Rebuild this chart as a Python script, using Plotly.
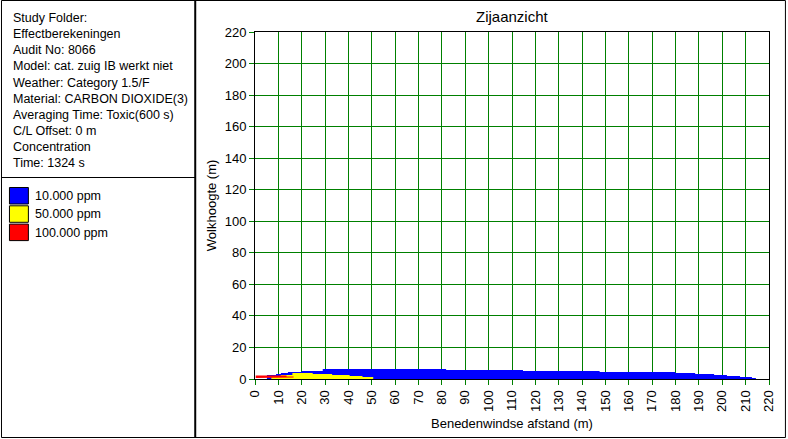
import plotly.graph_objects as go

# ---- data ----
info_lines = [
    "Study Folder:",
    "Effectberekeningen",
    "Audit No: 8066",
    "Model: cat. zuig IB werkt niet",
    "Weather: Category 1.5/F",
    "Material: CARBON DIOXIDE(3)",
    "Averaging Time: Toxic(600 s)",
    "C/L Offset: 0 m",
    "Concentration",
    "Time: 1324 s",
]
legend_labels = ["10.000 ppm", "50.000 ppm", "100.000 ppm"]
legend_colors = ["#0000FF", "#FFFF00", "#FF0000"]

# step profiles: edges (m) and cloud heights (m) per step
blue_edges = [5.1, 9.0, 11.1, 14.1, 20.0, 29.0, 81.8, 114.7, 147.5, 179.9, 188.4, 196.5, 202.0, 207.6, 212.7, 214.4]
blue_h = [2.5, 3.2, 3.8, 4.4, 5.1, 6.3, 5.7, 5.1, 4.4, 3.8, 3.2, 2.5, 1.9, 1.3, 0.6]

yellow_edges = [7.0, 11.0, 16.0, 24.7, 33.0, 40.5, 46.0, 50.6]
yellow_h = [1.9, 2.5, 3.8, 3.2, 2.5, 1.9, 1.3]

red_edges = [0.3, 13.5, 16.5]
red_top = [2.2, 1.6]
red_bottom = [0.6, 0.9]

x_ticks = list(range(0, 221, 10))
y_ticks = list(range(0, 221, 20))

FONT = "Liberation Sans, Arial, sans-serif"


def step_xy(edges, h):
    xs, ys = [], []
    for i, hv in enumerate(h):
        xs += [edges[i], edges[i + 1]]
        ys += [hv, hv]
    xs = [edges[0]] + xs + [edges[-1]]
    ys = [0] + ys + [0]
    return xs, ys


def band_xy(edges, top, bottom):
    xs, ys = [], []
    for i, hv in enumerate(top):
        xs += [edges[i], edges[i + 1]]
        ys += [hv, hv]
    for i in range(len(bottom) - 1, -1, -1):
        xs += [edges[i + 1], edges[i]]
        ys += [bottom[i], bottom[i]]
    return xs + [xs[0]], ys + [ys[0]]


fig = go.Figure()
bx, by = step_xy(blue_edges, blue_h)
fig.add_trace(go.Scatter(x=bx, y=by, fill="toself", fillcolor=legend_colors[0],
                         mode="lines", line=dict(width=0), hoverinfo="skip", showlegend=False))
yx, yy = step_xy(yellow_edges, yellow_h)
fig.add_trace(go.Scatter(x=yx, y=yy, fill="toself", fillcolor=legend_colors[1],
                         mode="lines", line=dict(width=0), hoverinfo="skip", showlegend=False))
rx, ry = band_xy(red_edges, red_top, red_bottom)
fig.add_trace(go.Scatter(x=rx, y=ry, fill="toself", fillcolor=legend_colors[2],
                         mode="lines", line=dict(width=0), hoverinfo="skip", showlegend=False))

W, H = 788, 439
L, R, T, B = 255, 771, 32, 379


def px(x):
    return (x - L) / (R - L)


def py(y):
    return (B - y) / (B - T)


shapes = []
annotations = []

# borders
def line(x0, y0, x1, y1, w=1):
    shapes.append(dict(type="line", xref="paper", yref="paper", x0=px(x0), y0=py(y0),
                       x1=px(x1), y1=py(y1), line=dict(color="black", width=w), layer="above"))

line(0.5, 0.5, 787.5, 0.5)
line(0.5, 437.5, 787.5, 437.5)
line(0.5, 0.5, 0.5, 437.5)
line(787.5, 0.5, 787.5, 437.5)
line(195, 0.5, 195, 437.5, 2)
line(0.5, 177.5, 195, 177.5)

for i, t in enumerate(info_lines):
    annotations.append(dict(text=t, xref="paper", yref="paper", x=px(10), y=py(18.3 + i * 16.05),
                            xanchor="left", yanchor="middle", showarrow=False,
                            font=dict(family=FONT, size=12.5, color="black")))

for i, (lab, col) in enumerate(zip(legend_labels, legend_colors)):
    y0 = 187.5 + i * 18.3
    shapes.append(dict(type="rect", xref="paper", yref="paper", x0=px(8.5), x1=px(27.5),
                       y0=py(y0), y1=py(y0 + 16.5), fillcolor=col,
                       line=dict(color="black", width=1)))
    annotations.append(dict(text=lab, xref="paper", yref="paper", x=px(32), y=py(y0 + 8.5),
                            xanchor="left", yanchor="middle", showarrow=False,
                            font=dict(family=FONT, size=12.5, color="black")))

annotations.append(dict(text="Zijaanzicht", xref="paper", yref="paper", x=0.5, y=py(17),
                        xanchor="center", yanchor="middle", showarrow=False,
                        font=dict(family=FONT, size=15, color="black")))
annotations.append(dict(text="Benedenwindse afstand (m)", xref="paper", yref="paper", x=0.5, y=py(423),
                        xanchor="center", yanchor="middle", showarrow=False,
                        font=dict(family=FONT, size=13, color="black")))
annotations.append(dict(text="Wolkhoogte (m)", xref="paper", yref="paper", x=px(211), y=py(205),
                        xanchor="center", yanchor="middle", showarrow=False, textangle=-90,
                        font=dict(family=FONT, size=13, color="black")))

axis_common = dict(showgrid=True, gridcolor="#008000", gridwidth=1, zeroline=False,
                   showline=True, linecolor="black", linewidth=1, mirror=True,
                   ticks="outside", ticklen=5, tickcolor="#008000", tickwidth=1,
                   tickfont=dict(family=FONT, size=13, color="black"), fixedrange=True)

fig.update_layout(
    width=W, height=H, autosize=False,
    margin=dict(l=L, r=W - R, t=T, b=H - B, pad=0),
    paper_bgcolor="white", plot_bgcolor="white",
    xaxis=dict(range=[0, 220], tickmode="array", tickvals=x_ticks,
               ticktext=[str(v) for v in x_ticks], tickangle=-90, **axis_common),
    yaxis=dict(range=[0, 220], tickmode="array", tickvals=y_ticks,
               ticktext=[str(v) for v in y_ticks], **axis_common),
    shapes=shapes, annotations=annotations, showlegend=False,
)

fig.write_html("out.html", config={"displayModeBar": False})
